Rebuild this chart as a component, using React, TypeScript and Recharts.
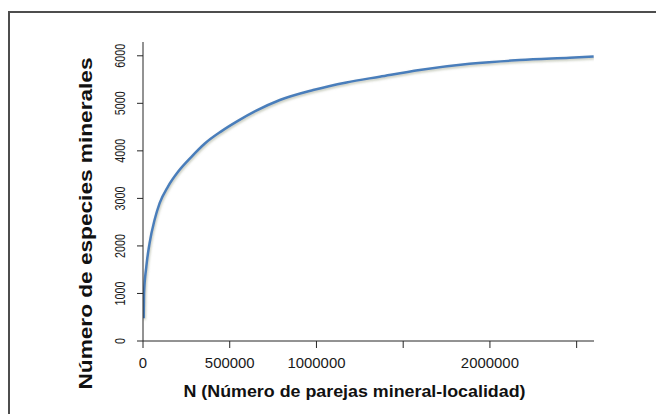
import React from 'react';
import { LineChart, Line, XAxis, YAxis, Label } from 'recharts';

const N_VALUES = [4000, 6000, 19000, 38000, 67000, 96000, 144000, 202000, 278000, 355000, 451000, 547000, 650000, 789000, 981000, 1173000, 1365000, 1595000, 1883000, 2172000, 2460000, 2598000];
const SPECIES = [480, 1000, 1560, 2060, 2550, 2900, 3250, 3560, 3870, 4150, 4410, 4630, 4840, 5070, 5280, 5440, 5560, 5700, 5830, 5910, 5960, 5985];
const X_TICKS = [0, 500000, 1000000, 1500000, 2000000, 2500000];
const X_TICK_LABELS = ['0', '500000', '1000000', '', '2000000', ''];
const Y_TICKS = [0, 1000, 2000, 3000, 4000, 5000, 6000];
const X_TITLE = 'N (Número de parejas mineral-localidad)';
const Y_TITLE = 'Número de especies minerales';

const data = N_VALUES.map((n, i) => ({ n, s: SPECIES[i] }));
const FONT = '"Liberation Sans", Arial, sans-serif';

const XTick = (props: any) => {
  const { x, y, payload } = props;
  const idx = X_TICKS.indexOf(payload.value);
  const label = idx >= 0 ? X_TICK_LABELS[idx] : '';
  if (!label) return null;
  return (
    <text x={x} y={y + 13} textAnchor="middle" dominantBaseline="central" fontFamily={FONT} fontSize={14} fill="#1a1a1a"
      textLength={label.length * 8.3} lengthAdjust="spacingAndGlyphs">
      {label}
    </text>
  );
};

const YTick = (props: any) => {
  const { x, y, payload } = props;
  const label = String(payload.value);
  const cx = x - 15;
  return (
    <text x={cx} y={y} transform={`rotate(-90, ${cx}, ${y})`} textAnchor="middle" dominantBaseline="central"
      fontFamily={FONT} fontSize={14} fill="#1a1a1a" textLength={label.length * 6} lengthAdjust="spacingAndGlyphs">
      {label}
    </text>
  );
};

const XTitle = (props: any) => {
  const vb = props.viewBox;
  const cx = vb.x + vb.width / 2 - 14;
  return (
    <text x={cx} y={397} textAnchor="middle" fontFamily={FONT} fontWeight="bold" fontSize={16} fill="#111"
      textLength={342} lengthAdjust="spacingAndGlyphs">
      {X_TITLE}
    </text>
  );
};

const YTitle = (props: any) => {
  const vb = props.viewBox;
  const cy = vb.y + vb.height / 2 + 32;
  const bx = 92;
  return (
    <text x={bx} y={cy} transform={`rotate(-90, ${bx}, ${cy})`} textAnchor="middle" fontFamily={FONT} fontWeight="bold"
      fontSize={17.5} fill="#111" textLength={332} lengthAdjust="spacingAndGlyphs">
      {Y_TITLE}
    </text>
  );
};

export default function App() {
  return (
    <div style={{ position: 'absolute', left: 0, top: 0, width: 656, height: 414, overflow: 'hidden', background: '#fff' }}>
      <svg width={0} height={0} style={{ position: 'absolute' }}>
        <defs>
          <filter id="lineShadow" x="-10%" y="-10%" width="130%" height="130%">
            <feDropShadow dx="0.8" dy="1.5" stdDeviation="0.9" floodColor="#8c9478" floodOpacity="0.55" />
          </filter>
        </defs>
      </svg>
      <div style={{ position: 'absolute', left: 8, top: 11, width: 700, height: 500, borderLeft: '2px solid #4d4d4d', borderTop: '2px solid #4d4d4d' }} />
      <div style={{ position: 'absolute', left: 0, top: 0 }}>
        <LineChart width={656} height={414} data={data} margin={{ top: 42, right: 62, bottom: 0, left: 0 }}>
          <XAxis dataKey="n" type="number" domain={[0, 2600000]} ticks={X_TICKS} interval={0} height={73}
            tickSize={7} stroke="#262626" tick={<XTick />} allowDataOverflow>
            <Label content={<XTitle />} />
          </XAxis>
          <XAxis xAxisId="top" dataKey="n" type="number" orientation="top" domain={[0, 2600000]} height={0}
            tick={false} tickLine={false} stroke="#a6a6a6" strokeWidth={1.5} allowDataOverflow />
          <YAxis type="number" domain={[0, 6290]} ticks={Y_TICKS} interval={0} width={143} tickSize={6}
            stroke="#262626" tick={<YTick />} allowDataOverflow>
            <Label content={<YTitle />} />
          </YAxis>
          <YAxis yAxisId="right" type="number" orientation="right" domain={[0, 6290]} width={0}
            tick={false} tickLine={false} stroke="#a6a6a6" strokeWidth={1.5} allowDataOverflow />
          <Line type="monotone" dataKey="s" stroke="#4a7ebb" strokeWidth={2.5} dot={false}
            isAnimationActive={false} filter="url(#lineShadow)" />
        </LineChart>
      </div>
    </div>
  );
}
